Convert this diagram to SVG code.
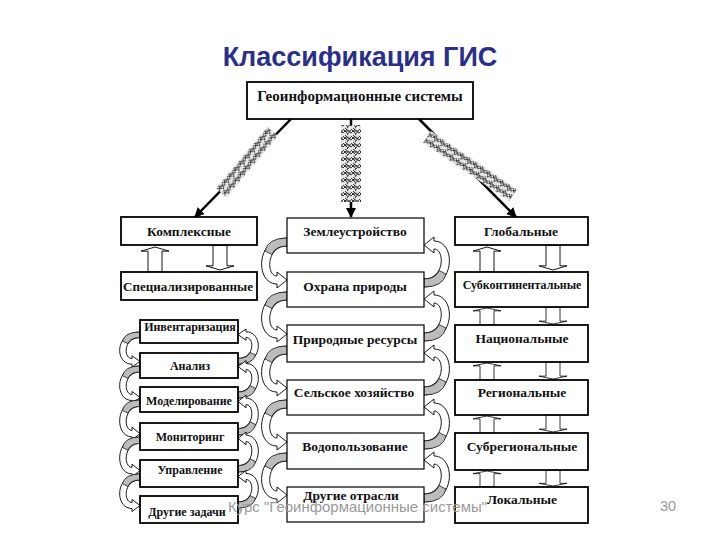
<svg xmlns="http://www.w3.org/2000/svg" width="720" height="540" viewBox="0 0 720 540">
<style>
  .box{fill:#fff;stroke:#000;stroke-width:1.8}
  .boxm{fill:#fff;stroke:#000;stroke-width:1.2}
  .t{font-family:"Liberation Serif","Times New Roman",serif;font-weight:bold;font-size:13.5px;fill:#111;text-anchor:middle}
  .ts{font-size:12px}
  .title{font-family:"Liberation Sans",Arial,sans-serif;font-weight:bold;font-size:27px;fill:#2b2f8c;text-anchor:middle}
  .foot{font-family:"Liberation Sans",Arial,sans-serif;font-size:14.5px;fill:#9a9a9a}
  .main{stroke:#000;stroke-width:2.5;fill:none}
  .blk{fill:#fff;stroke:#000;stroke-width:1}
  .band{fill:#fff;stroke:#000;stroke-width:0.9}
  .shade{fill:#bcbcbc;stroke:#000;stroke-width:0.7}
</style>
<defs>
  <marker id="ah" viewBox="0 0 10 10" refX="9" refY="5" markerWidth="4" markerHeight="4" orient="auto" markerUnits="strokeWidth">
    <path d="M0,0 L10,5 L0,10 Z" fill="#000"/>
  </marker>
  <pattern id="scrib" patternUnits="userSpaceOnUse" width="8" height="7">
    <rect width="8" height="7" fill="#e6e6e6"/>
    <path d="M0,1 L5,6 M2,0 L8,5 M0,5 L4,1 M4,7 L8,2 M1,3 L7,3" stroke="#2a2a2a" stroke-width="0.9"/>
  </pattern>
  <g id="curve">
    <path class="band" vector-effect="non-scaling-stroke" d="M0,0 C-32,0 -32,46 -10,46 L-10,50 L0,42 L-10,34 L-10,38 C-21,38 -21,8 0,8 Z"/>
    <path class="shade" vector-effect="non-scaling-stroke" d="M0,0 Q-19,0 -22,13 L-15,16.5 Q-12,8 0,8 Z"/>
  </g>
  <polygon id="up" class="blk" points="0,0 14,5 7,5 7,30 -7,30 -7,5 -14,5"/>
</defs>

<text class="title" x="360" y="66">Классификация ГИС</text>

<g id="connectors">
  <line class="main" x1="291" y1="119" x2="195" y2="217" marker-end="url(#ah)"/>
  <line class="main" x1="351" y1="119" x2="351" y2="217" marker-end="url(#ah)"/>
  <line class="main" x1="419" y1="119" x2="516" y2="217" marker-end="url(#ah)"/>
  <rect x="-40" y="-7" width="80" height="14" fill="url(#scrib)" transform="translate(247,162) rotate(-50)"/>
  <rect x="-10" y="-38" width="20" height="77" fill="url(#scrib)" transform="translate(351,163)"/>
  <rect x="-52" y="-7" width="104" height="14" fill="url(#scrib)" transform="translate(470,166) rotate(34)"/>

  <use href="#up" transform="translate(155,247) scale(1,0.83)"/>
  <use href="#up" transform="translate(220,270) scale(1,-0.83)"/>
  <use href="#up" transform="translate(487,247) scale(1,0.83)"/>
  <use href="#up" transform="translate(553,270) scale(1,-0.83)"/>
  <use href="#up" transform="translate(487,308) scale(1,0.57)"/>
  <use href="#up" transform="translate(553,324) scale(1,-0.57)"/>
  <use href="#up" transform="translate(487,363) scale(1,0.57)"/>
  <use href="#up" transform="translate(553,379) scale(1,-0.57)"/>
  <use href="#up" transform="translate(487,416) scale(1,0.57)"/>
  <use href="#up" transform="translate(553,432) scale(1,-0.57)"/>
  <use href="#up" transform="translate(487,471) scale(1,0.53)"/>
  <use href="#up" transform="translate(553,486) scale(1,-0.53)"/>

  <use href="#curve" transform="translate(287,238)"/>
  <use href="#curve" transform="translate(287,292)"/>
  <use href="#curve" transform="translate(287,346)"/>
  <use href="#curve" transform="translate(287,400)"/>
  <use href="#curve" transform="translate(287,453)"/>
  <use href="#curve" transform="translate(424,287) scale(-1,-1)"/>
  <use href="#curve" transform="translate(424,341) scale(-1,-1)"/>
  <use href="#curve" transform="translate(424,395) scale(-1,-1)"/>
  <use href="#curve" transform="translate(424,449) scale(-1,-1)"/>
  <use href="#curve" transform="translate(424,502) scale(-1,-1)"/>
  <use href="#curve" transform="translate(140,332) scale(0.8,0.7)"/>
  <use href="#curve" transform="translate(140,366) scale(0.8,0.75)"/>
  <use href="#curve" transform="translate(140,400) scale(0.8,0.8)"/>
  <use href="#curve" transform="translate(140,437) scale(0.8,0.8)"/>
  <use href="#curve" transform="translate(140,474) scale(0.8,0.75)"/>
  <use href="#curve" transform="translate(238,364) scale(-0.8,-0.7)"/>
  <use href="#curve" transform="translate(238,398) scale(-0.8,-0.75)"/>
  <use href="#curve" transform="translate(238,435) scale(-0.8,-0.8)"/>
  <use href="#curve" transform="translate(238,472) scale(-0.8,-0.8)"/>
  <use href="#curve" transform="translate(238,508) scale(-0.8,-0.75)"/>
</g>

<g id="n-root"><rect class="box" x="247" y="82" width="226" height="37"/><text class="t" x="360" y="101" style="font-size:15px">Геоинформационные системы</text></g>

<g id="n-kompl"><rect class="box" x="121" y="217" width="136" height="28"/><text class="t" x="189" y="236">Комплексные</text></g>
<g id="n-spec"><rect class="box" x="121" y="272" width="136" height="28"/><text class="t ts" x="188" y="291" textLength="130" lengthAdjust="spacingAndGlyphs">Специализированные</text></g>

<g id="n-inv"><rect class="box" x="140" y="320" width="98" height="23"/><text class="t ts" x="190" y="331">Инвентаризация</text></g>
<g id="n-anal"><rect class="box" x="140" y="353" width="98" height="25"/><text class="t ts" x="190" y="370">Анализ</text></g>
<g id="n-model"><rect class="box" x="140" y="387" width="98" height="25"/><text class="t ts" x="189" y="405">Моделирование</text></g>
<g id="n-monit"><rect class="box" x="140" y="423" width="98" height="27"/><text class="t ts" x="190" y="441">Мониторинг</text></g>
<g id="n-upr"><rect class="box" x="140" y="460" width="98" height="27"/><text class="t ts" x="190" y="474">Управление</text></g>
<g id="n-drz"><rect class="box" x="140" y="496" width="98" height="27"/><text class="t ts" x="187" y="516">Другие задачи</text></g>

<g id="n-zeml"><rect class="boxm" x="287" y="218" width="137" height="35"/><text class="t" x="355" y="236">Землеустройство</text></g>
<g id="n-ohr"><rect class="boxm" x="287" y="272" width="137" height="35"/><text class="t" x="355" y="291">Охрана природы</text></g>
<g id="n-prir"><rect class="boxm" x="287" y="325" width="137" height="37"/><text class="t" x="355" y="344">Природные ресурсы</text></g>
<g id="n-selsk"><rect class="boxm" x="287" y="380" width="137" height="35"/><text class="t" x="354" y="397">Сельское хозяйство</text></g>
<g id="n-vodo"><rect class="boxm" x="287" y="433" width="137" height="36"/><text class="t" x="355" y="451">Водопользование</text></g>
<g id="n-dro"><rect class="boxm" x="287" y="487" width="137" height="35"/><text class="t" x="351" y="500">Другие отрасли</text></g>

<g id="n-glob"><rect class="box" x="455" y="217" width="133" height="28"/><text class="t" x="521" y="236">Глобальные</text></g>
<g id="n-subk"><rect class="box" x="455" y="272" width="133" height="35"/><text class="t ts" x="522" y="289">Субконтинентальные</text></g>
<g id="n-nac"><rect class="box" x="455" y="325" width="133" height="37"/><text class="t" x="522" y="343">Национальные</text></g>
<g id="n-reg"><rect class="box" x="455" y="380" width="133" height="35"/><text class="t" x="522" y="397">Региональные</text></g>
<g id="n-subr"><rect class="box" x="455" y="433" width="133" height="37"/><text class="t" x="522" y="451">Субрегиональные</text></g>
<g id="n-lok"><rect class="box" x="455" y="487" width="133" height="36"/><text class="t" x="522" y="504">Локальные</text></g>

<text class="foot" x="228" y="512" textLength="259" lengthAdjust="spacingAndGlyphs">Курс "Геоинформационные системы"</text>
<text class="foot" x="660" y="511">30</text>
</svg>
